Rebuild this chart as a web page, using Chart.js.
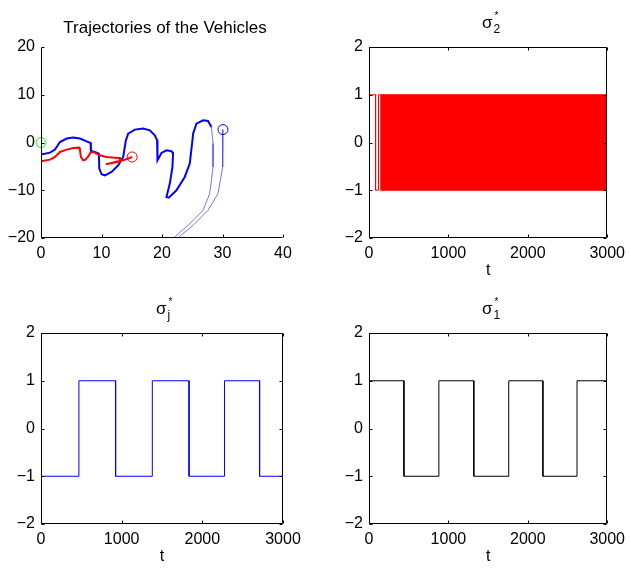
<!DOCTYPE html>
<html>
<head>
<meta charset="utf-8">
<script src="https://cdn.jsdelivr.net/npm/chart.js@4/dist/chart.umd.min.js"></script>
<style>
  html, body { margin: 0; padding: 0; background: #fff; }
  #wrap { position: relative; width: 631px; height: 570px; overflow: hidden; }
  canvas { position: absolute; left: 0; top: 0; }
  .ttl { position: absolute; font-family: "Liberation Sans", Arial, sans-serif; color: #000;
         white-space: nowrap; transform: translateX(-50%); line-height: 17px; font-size: 17px; }
  .ss { position: relative; display: inline-block; font-size: 12px; line-height: 12px; vertical-align: -5px; margin-left: 1px; }
  .st { position: absolute; left: 1px; top: -13px; font-size: 10px; }
</style>
</head>
<body>
<div id="wrap">
  <canvas id="cTraj" width="631" height="570"></canvas>
  <canvas id="cS2" width="631" height="570"></canvas>
  <canvas id="cSj" width="631" height="570"></canvas>
  <canvas id="cS1" width="631" height="570"></canvas>
  <div class="ttl" style="left:165px; top:19px;">Trajectories of the Vehicles</div>
  <div class="ttl" style="left:491px; top:14px;">σ<span class="ss">2<span class="st">*</span></span></div>
  <div class="ttl" style="left:163px; top:300px;">σ<span class="ss">j<span class="st">*</span></span></div>
  <div class="ttl" style="left:491px; top:300px;">σ<span class="ss">1<span class="st">*</span></span></div>
</div>
<script>
// ---------- DATA ----------
// Vehicle trajectories (x, y)
const blueX = [0, 1.49, 2.31, 3.14, 4.24, 5.33, 6.44, 7.54, 8.20, 8.25, 8.91, 9.57, 9.63, 10.02, 10.56, 11.66, 12.76, 13.59, 14.03, 14.41, 15.51, 16.89, 17.99, 18.81, 19.19, 19.25, 19.91, 20.74, 21.56, 21.83, 21.73, 21.29, 20.74, 21.12, 22.39, 23.76, 24.59, 25.03, 25.14, 25.69, 26.79, 27.61, 28.17];
const blueY = [-2.5, -2.12, -1.49, 0.10, 0.82, 1.03, 0.82, 0.25, -0.10, -1.78, -1.98, -2.33, -5.47, -6.66, -6.87, -6.17, -4.78, -3.03, 0.46, 1.86, 2.70, 2.91, 2.55, 1.51, 0.46, -3.73, -2.19, -1.63, -1.84, -2.19, -5.13, -8.61, -11.41, -11.55, -10.02, -7.22, -4.42, 0.46, 1.86, 3.95, 4.65, 4.50, 3.25];
const blueOutX = [28.17, 28.43, 28.43, 27.89, 26.79, 24.59, 22.11, 21.95];
const blueOutY = [3.25, -0.23, -5.13, -10.70, -14.20, -16.98, -19.79, -20];
const blueInX = [30.08, 30.08, 29.98, 29.26, 27.61, 25.14, 22.66, 22.5];
const blueInY = [2.70, 1.15, -5.13, -10.70, -14.20, -17.34, -19.92, -20];
const redX = [0, 1.49, 2.31, 3.14, 4.24, 5.33, 6.32, 6.44, 6.60, 6.98, 7.37, 7.81, 8.20, 8.63, 9.74, 10.84, 12.21, 13.04, 13.04, 11.93, 10.73, 11.66, 12.76, 13.59, 14.41, 15.07];
const redY = [-3.94, -3.59, -3.03, -1.98, -1.49, -1.15, -1.08, -1.63, -3.03, -3.73, -3.59, -2.89, -2.12, -1.98, -2.68, -3.03, -3.17, -3.24, -3.94, -4.22, -4.57, -4.29, -3.94, -3.73, -3.38, -3.03];
// markers: green start, red vehicle, blue vehicle
const markerX = [0, 15.07, 30.08];
const markerY = [0, -3.03, 2.70];
const markerColors = ['#00ff00', '#ff0000', '#0000ff'];

// sigma_2^*: initial switching then chattering band
const s2Times = [0, 83, 120];
const s2Values = [1, -1, 1];
const s2BandStart = 140, s2BandEnd = 3000;
const s2BandHigh = 1, s2BandLow = -1;

// sigma_j^*: initial value then switch times / values
const sjInitial = 0;
const sjTimes = [0, 470, 925, 1380, 1835, 2275, 2710];
const sjValues = [-1, 1, -1, 1, -1, 1, -1];

// sigma_1^*
const s1Times = [0, 440, 880, 1320, 1760, 2190, 2620];
const s1Values = [1, -1, 1, -1, 1, -1, 1];

const tEnd = 3000;
const tTicks = [0, 1000, 2000, 3000];
const sigTicks = [-2, -1, 0, 1, 2];
const trajXTicks = [0, 10, 20, 30, 40];
const trajYTicks = [-20, -10, 0, 10, 20];

// ---------- HELPERS ----------
const FONT = '"Liberation Sans", Arial, sans-serif';
const W = 631, H = 570, YW = 40, XH = 46;

function pts(xs, ys) { return xs.map((x, i) => ({x: x, y: ys[i]})); }
function steps(times, values, end, init) {
  const out = [];
  if (init !== undefined) out.push({x: times[0], y: init});
  for (let i = 0; i < times.length; i++) {
    const t1 = i + 1 < times.length ? times[i + 1] : end;
    out.push({x: times[i], y: values[i]});
    out.push({x: t1, y: values[i]});
  }
  return out;
}
const fmt = v => String(v).replace('-', '\u2212');

const framePlugin = {
  id: 'frame',
  afterDraw(chart, args, opts) {
    const {ctx, chartArea: a} = chart;
    const xs = chart.scales.x, ys = chart.scales.y;
    const L = Math.round(a.left) + 0.5, R = Math.round(a.right) - 0.5;
    const T = Math.round(a.top) + 0.5, B = Math.round(a.bottom) - 0.5;
    const tl = 3;
    ctx.save();
    ctx.strokeStyle = '#000';
    ctx.lineWidth = 1;
    ctx.beginPath();
    if (opts.box) { ctx.rect(L, T, R - L, B - T); }
    else { ctx.moveTo(L, T); ctx.lineTo(L, B); ctx.lineTo(R, B); }
    xs.ticks.forEach(t => {
      const p = Math.round(xs.getPixelForValue(t.value)) + 0.5;
      ctx.moveTo(p, B); ctx.lineTo(p, B - tl);
      if (opts.box) { ctx.moveTo(p, T); ctx.lineTo(p, T + tl); }
    });
    ys.ticks.forEach(t => {
      const p = Math.round(ys.getPixelForValue(t.value)) + 0.5;
      ctx.moveTo(L, p); ctx.lineTo(L + tl, p);
      if (opts.box) { ctx.moveTo(R, p); ctx.lineTo(R - tl, p); }
    });
    ctx.stroke();
    ctx.restore();
  }
};

function makeChart(id, area, xr, yr, xTickVals, yTickVals, datasets, box, xTitle) {
  const tickFont = {family: FONT, size: 16};
  return new Chart(document.getElementById(id), {
    type: 'line',
    data: {datasets: datasets},
    options: {
      responsive: false,
      animation: false,
      devicePixelRatio: 1,
      events: [],
      layout: {padding: {left: area.L - YW, top: area.T, right: W - area.R, bottom: H - area.B - XH}},
      plugins: {legend: {display: false}, tooltip: {enabled: false}, frame: {box: box}},
      elements: {point: {radius: 0}, line: {tension: 0}},
      scales: {
        x: {
          type: 'linear', min: xr[0], max: xr[1],
          afterBuildTicks: s => { s.ticks = xTickVals.map(v => ({value: v})); },
          ticks: {font: tickFont, color: '#000', padding: 6, maxRotation: 0, autoSkip: false, callback: v => fmt(v)},
          grid: {display: false, drawTicks: false},
          border: {display: false},
          title: {display: !!xTitle, text: xTitle || '', color: '#000', font: tickFont, padding: {top: 0, bottom: 4}},
          afterFit: s => { s.height = XH; }
        },
        y: {
          type: 'linear', min: yr[0], max: yr[1],
          afterBuildTicks: s => { s.ticks = yTickVals.map(v => ({value: v})); },
          ticks: {font: tickFont, color: '#000', padding: 6, autoSkip: false, callback: v => fmt(v)},
          grid: {display: false, drawTicks: false},
          border: {display: false},
          afterFit: s => { s.width = YW; }
        }
      }
    },
    plugins: [framePlugin]
  });
}

// ---------- CHARTS ----------
const trajSets = [
  {data: pts(redX, redY), borderColor: '#ff0000', borderWidth: 2, pointRadius: 0, fill: false, order: 1},
  {data: pts(blueX, blueY), borderColor: '#0000ff', borderWidth: 2, pointRadius: 0, fill: false, order: 2},
  {data: pts(blueOutX, blueOutY), borderColor: 'rgba(70,70,255,0.75)', borderWidth: 1, pointRadius: 0, fill: false, order: 3},
  {data: pts(blueInX, blueInY), borderColor: 'rgba(70,70,255,0.75)', borderWidth: 1, pointRadius: 0, fill: false, order: 3}
];
markerX.forEach((x, i) => trajSets.push({
  data: [{x: x, y: markerY[i]}], showLine: false, pointRadius: 5, pointBorderWidth: 1,
  pointBorderColor: markerColors[i], pointBackgroundColor: 'rgba(0,0,0,0)', clip: false, order: 0
}));
makeChart('cTraj', {L: 41, T: 47, R: 283, B: 238}, [0, 40], [-20, 20], trajXTicks, trajYTicks, trajSets, false, null);

makeChart('cS2', {L: 369, T: 47, R: 612, B: 238}, [0, tEnd], [-2, 2], tTicks, sigTicks, [
  {data: steps(s2Times, s2Values, s2BandStart), borderColor: '#ff0000', borderWidth: 1, pointRadius: 0, fill: false},
  {data: [{x: s2BandStart, y: s2BandHigh}, {x: s2BandEnd, y: s2BandHigh}], borderColor: '#ff0000', borderWidth: 1, pointRadius: 0, fill: false},
  {data: [{x: s2BandStart, y: s2BandLow}, {x: s2BandEnd, y: s2BandLow}], borderColor: '#ff0000', borderWidth: 1, pointRadius: 0, fill: '-1', backgroundColor: '#ff0000'}
], true, 't');

makeChart('cSj', {L: 41, T: 333, R: 283, B: 524}, [0, tEnd], [-2, 2], tTicks, sigTicks, [
  {data: steps(sjTimes, sjValues, tEnd, sjInitial), borderColor: '#0000ff', borderWidth: 1, pointRadius: 0, fill: false}
], true, 't');

makeChart('cS1', {L: 369, T: 333, R: 612, B: 524}, [0, tEnd], [-2, 2], tTicks, sigTicks, [
  {data: steps(s1Times, s1Values, tEnd), borderColor: '#000000', borderWidth: 1, pointRadius: 0, fill: false}
], true, 't');
</script>
</body>
</html>
